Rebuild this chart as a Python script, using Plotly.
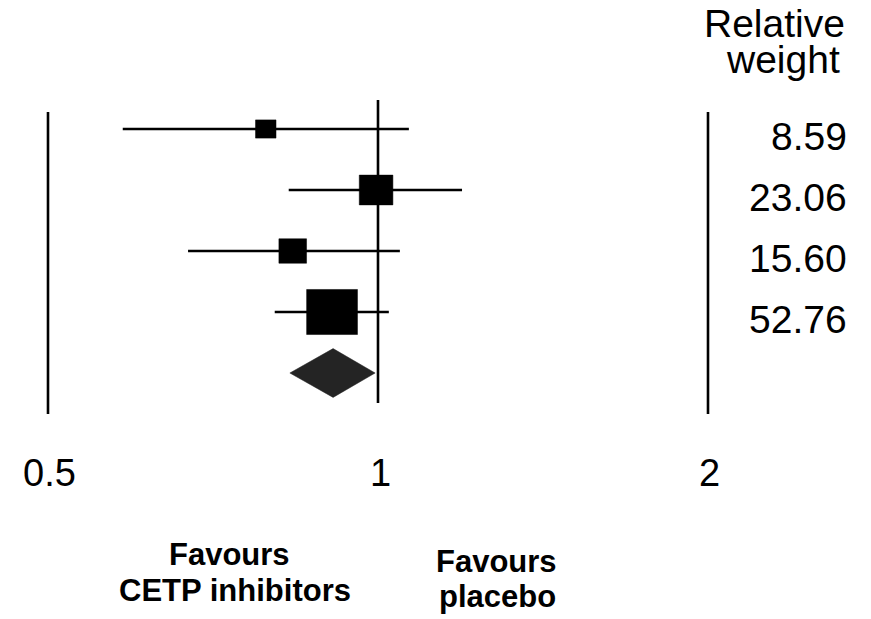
import numpy as np
import plotly.graph_objects as go

# ---- data ----
study_est = [0.790, 0.996, 0.836, 0.908]
study_lo = [0.585, 0.829, 0.671, 0.805]
study_hi = [1.067, 1.193, 1.047, 1.023]
weights = [8.59, 23.06, 15.60, 52.76]
weight_labels = ["8.59", "23.06", "15.60", "52.76"]
pooled_est = 0.910
pooled_lo = 0.831
pooled_hi = 0.994
tick_vals = [0.5, 1, 2]
tick_labels = ["0.5", "1", "2"]

# the page body adds an 8px margin; figure is sized/positioned to compensate
OFF = 8
W, H = 871 - OFF, 619 - OFF
FONT = "Liberation Sans, Arial, sans-serif"

# axis geometry (log x axis, rows on y)
log_per_px = np.log10(4) / 660.0
x0 = np.log10(0.5) - (48 - OFF) * log_per_px
x_range = [x0, x0 + W * log_per_px]
row_px = 61.0
row0_px = 129 - OFF
y_range = [(H - row0_px) / row_px, -row0_px / row_px]


def px_x(p):
    return (p - OFF) / W


def px_y(p):
    return 1 - (p - OFF) / H


fig = go.Figure()

# confidence interval lines
cx, cy = [], []
for i, (lo, hi) in enumerate(zip(study_lo, study_hi)):
    cx += [lo, hi, None]
    cy += [i, i, None]
fig.add_trace(go.Scatter(x=cx, y=cy, mode="lines",
                         line=dict(color="black", width=2.3),
                         hoverinfo="skip", showlegend=False))

# weight-scaled boxes
for i, (e, w) in enumerate(zip(study_est, weights)):
    hw = 3.5 * np.sqrt(w) * log_per_px
    hh = 3.1 * np.sqrt(w) / row_px
    xl, xr = e * 10 ** (-hw), e * 10 ** hw
    fig.add_trace(go.Scatter(
        x=[xl, xr, xr, xl, xl], y=[i - hh, i - hh, i + hh, i + hh, i - hh],
        mode="lines", fill="toself", fillcolor="black",
        line=dict(color="black", width=0.5),
        hoverinfo="skip", showlegend=False))

# pooled diamond
pr = len(study_est)
dh = 0.40
fig.add_trace(go.Scatter(
    x=[pooled_lo, pooled_est, pooled_hi, pooled_est, pooled_lo],
    y=[pr, pr - dh, pr, pr + dh, pr],
    mode="lines", fill="toself", fillcolor="#242424",
    line=dict(color="#242424", width=0.5),
    hoverinfo="skip", showlegend=False))

# vertical reference lines
vx = [tick_vals[0], tick_vals[0], None, tick_vals[2], tick_vals[2], None,
      tick_vals[1], tick_vals[1]]
vy = [-0.279, 4.672, None, -0.279, 4.672, None, -0.475, 4.492]
fig.add_trace(go.Scatter(x=vx, y=vy, mode="lines",
                         line=dict(color="black", width=2.6),
                         hoverinfo="skip", showlegend=False))

ann = []
# relative weights
for i, t in enumerate(weight_labels):
    ann.append(dict(x=px_x(849), xref="paper", y=i, yref="y", yshift=-7,
                    text=t, showarrow=False, xanchor="right", yanchor="middle",
                    font=dict(family=FONT, size=39, color="black")))
# header
ann.append(dict(x=px_x(774), xref="paper", y=px_y(23.5), yref="paper",
                text="Relative", showarrow=False, xanchor="center", yanchor="middle",
                font=dict(family=FONT, size=39, color="black")))
ann.append(dict(x=px_x(783), xref="paper", y=px_y(59), yref="paper",
                text="weight", showarrow=False, xanchor="center", yanchor="middle",
                font=dict(family=FONT, size=39, color="black")))
# tick labels
for v, t in zip(tick_vals, tick_labels):
    ann.append(dict(x=np.log10(v), xref="x", y=px_y(473), yref="paper",
                    text=t, showarrow=False, xanchor="center", yanchor="middle",
                    xshift=2 if v == 1 else 1,
                    font=dict(family=FONT, size=38, color="black")))
# favours labels
for txt, xc, yc in [("Favours", 229, 554.5), ("CETP inhibitors", 235, 590),
                    ("Favours", 496, 561.5), ("placebo", 498, 596.5)]:
    ann.append(dict(x=px_x(xc), xref="paper", y=px_y(yc), yref="paper",
                    text="<b>" + txt + "</b>", showarrow=False,
                    xanchor="center", yanchor="middle",
                    font=dict(family=FONT, size=31, color="black")))

fig.update_layout(
    width=W, height=H, margin=dict(l=0, r=0, t=0, b=0),
    paper_bgcolor="white", plot_bgcolor="white",
    xaxis=dict(type="log", range=x_range, visible=False, fixedrange=True),
    yaxis=dict(range=y_range, visible=False, fixedrange=True),
    annotations=ann, showlegend=False,
)

fig.write_html("out.html")
